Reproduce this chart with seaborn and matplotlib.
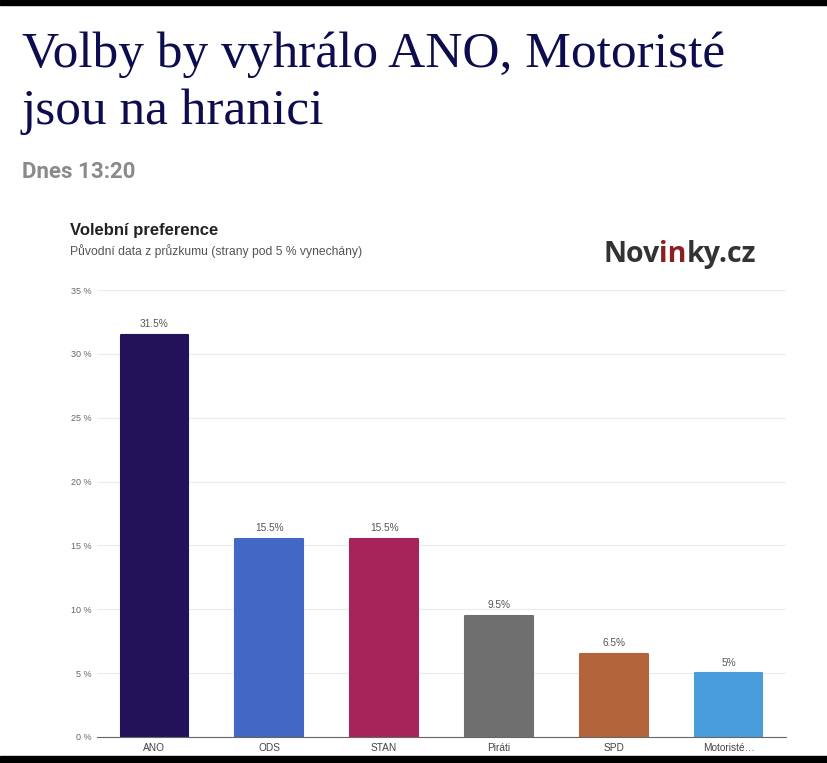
import matplotlib
matplotlib.use("Agg")
import matplotlib.pyplot as plt
import seaborn as sns
import pandas as pd
from matplotlib.patches import Rectangle

# ---- data ----
parties = ["ANO", "ODS", "STAN", "Piráti", "SPD", "Motoristé…"]
values = [31.5, 15.5, 15.5, 9.5, 6.5, 5.0]
colors = ["#23125a", "#4267c5", "#a7245b", "#6f6f6f", "#b4643a", "#4a9ddc"]
ytick_vals = [0, 5, 10, 15, 20, 25, 30, 35]
ytick_labels = ["0 %", "5 %", "10 %", "15 %", "20 %", "25 %", "30 %", "35 %"]
value_labels = [f"{v:g}%" for v in values]

headline_1 = "Volby by vyhrálo ANO, Motoristé"
headline_2 = "jsou na hranici"
timestamp = "Dnes 13:20"
chart_title = "Volební preference"
chart_subtitle = "Původní data z průzkumu (strany pod 5 % vynechány)"

df = pd.DataFrame({"party": parties, "value": values})

sns.set_theme(style="white")
plt.rcParams["font.family"] = ["Liberation Sans", "DejaVu Sans"]

W, H = 827, 763
fig = plt.figure(figsize=(W / 100, H / 100), dpi=100)
fig.patch.set_facecolor("white")

def fx(px):
    return px / W

def fy(py):
    return 1 - py / H

# axes placement (pixels measured from reference)
x0, x1 = 97, 786
y_top, y_bot = 290, 737
ax = fig.add_axes([fx(x0), fy(y_bot), fx(x1) - fx(x0), fy(y_top) - fy(y_bot)])

sns.barplot(data=df, x="party", y="value", hue="party", palette=colors,
            width=0.59, legend=False, ax=ax, saturation=1)

for p in ax.patches:
    p.set_edgecolor(p.get_facecolor())
    p.set_linewidth(1.5)
    p.set_joinstyle("round")

for cont, lab in zip(ax.containers, value_labels):
    ax.bar_label(cont, labels=[lab], padding=4, fontsize=7.3, color="#555555")

ax.set_xlim(-0.5, len(parties) - 0.5)
ax.set_ylim(0, 35)
ax.set_yticks(ytick_vals)
ax.set_yticklabels(ytick_labels, fontsize=6.5, color="#666666")
ax.tick_params(axis="y", length=0, pad=4)
ax.set_xticks(range(len(parties)))
ax.set_xticklabels(parties, fontsize=7.3, color="#444444")
ax.tick_params(axis="x", which="major", length=0, pad=4)
ax.set_xticks([i - 0.5 for i in range(len(parties) + 1)], minor=True)
ax.tick_params(axis="x", which="minor", length=5, width=0.8, color="#666666", direction="out")
ax.set_xlabel("")
ax.set_ylabel("")
ax.grid(axis="y", color="#ebebeb", linewidth=0.8)
ax.set_axisbelow(True)
for s in ["left", "right", "top"]:
    ax.spines[s].set_visible(False)
ax.spines["bottom"].set_color("#666666")
ax.spines["bottom"].set_linewidth(0.8)

# headline
head_kw = dict(family=["Liberation Serif", "DejaVu Serif"], fontsize=37,
               color="#0c0c4e", va="baseline", ha="left")
fig.text(fx(22), fy(67), headline_1, **head_kw)
fig.text(fx(22), fy(124), headline_2, **head_kw)
fig.text(fx(22), fy(178), timestamp, family=["Roboto", "DejaVu Sans"],
         fontweight="bold", fontsize=16, color="#8a8a8a", va="baseline", ha="left")

# chart header
fig.text(fx(70), fy(235), chart_title, fontsize=12, fontweight="bold",
         color="#222222", va="baseline", ha="left")
fig.text(fx(70), fy(255), chart_subtitle, fontsize=8.7, color="#555555",
         va="baseline", ha="left")

# logo
logo_kw = dict(family=["Open Sans", "DejaVu Sans"], fontweight="bold", fontsize=20.5)
t1 = fig.text(fx(603), fy(262), "Nov", color="#333333", va="baseline", ha="left", **logo_kw)
an2 = ax.annotate("in", xy=(1, 0), xycoords=t1, va="bottom", ha="left",
                  color="#8b1f22", annotation_clip=False, **logo_kw)
an3 = ax.annotate("ky.cz", xy=(1, 0), xycoords=an2, va="bottom", ha="left",
                  color="#333333", annotation_clip=False, **logo_kw)

# black bands top/bottom
fig.patches.append(Rectangle((0, fy(5)), 1, fy(0) - fy(5), transform=fig.transFigure,
                             color="black", zorder=10))
fig.patches.append(Rectangle((0, 0), 1, fy(756), transform=fig.transFigure,
                             color="black", zorder=10))

fig.savefig("out.png", dpi=100, facecolor="white")
